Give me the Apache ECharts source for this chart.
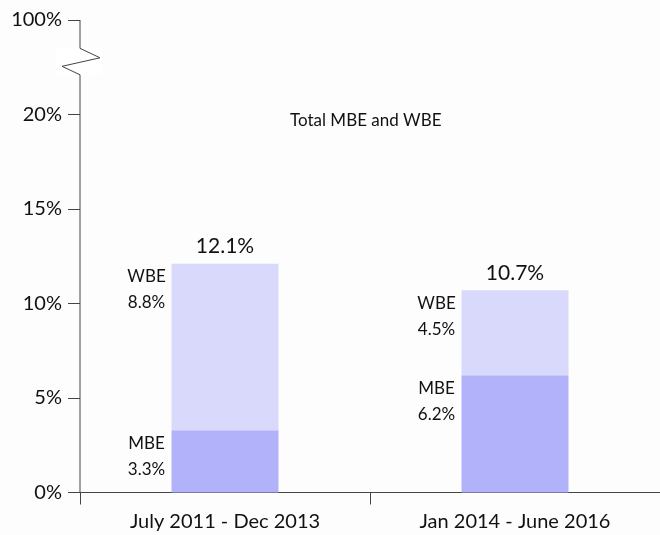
<!DOCTYPE html>
<html><head><meta charset="utf-8">
<script src="https://cdn.jsdelivr.net/npm/echarts@6/dist/echarts.min.js"></script>
<style>html,body{margin:0;padding:0;background:#fff}#c{width:660px;height:535px}</style>
</head><body><div id="c"></div>
<script>
const categories = ['July 2011 - Dec 2013', 'Jan 2014 - June 2016'];
const mbe = [3.3, 6.2];
const wbe = [8.8, 4.5];
const totals = mbe.map((v, i) => +(v + wbe[i]).toFixed(1));
// axis value 25 stands for the 100% tick above the axis break
const yTickValues = [0, 5, 10, 15, 20, 25];
const yTickLabels = ['0%', '5%', '10%', '15%', '20%', '100%'];
const chartTitle = 'Total MBE and WBE';

const FONT = 'Lato';
const chart = echarts.init(document.getElementById('c'));
const sideLabel = (name) => ({
  show: true,
  position: [-25, 0],
  align: 'center',
  verticalAlign: 'top',
  fontFamily: FONT,
  fontSize: 17,
  lineHeight: 26,
  color: '#111',
  formatter: p => name + '\n' + p.value.toFixed(1) + '%'
});
chart.setOption({
  backgroundColor: '#fdfdfd',
  animation: false,
  title: {
    text: chartTitle, left: 285, top: 107,
    textStyle: {fontFamily: FONT, fontSize: 17, fontWeight: 'normal', color: '#111'}
  },
  grid: {left: 80, top: 20, width: 586, height: 472.5},
  xAxis: {
    type: 'category', data: categories,
    axisLine: {lineStyle: {color: '#444', width: 1}},
    axisTick: {show: true, length: 12, lineStyle: {color: '#444'}},
    axisLabel: {margin: 19, fontFamily: FONT, fontSize: 20, color: '#111'}
  },
  yAxis: {
    type: 'value', min: 0, max: 25, interval: 5,
    splitLine: {show: false},
    axisLine: {show: false},
    axisTick: {show: true, length: 12, lineStyle: {color: '#444'}},
    axisLabel: {
      margin: 18, fontFamily: FONT, fontSize: 20, color: '#111',
      formatter: v => yTickLabels[yTickValues.indexOf(v)]
    }
  },
  series: [
    {name: 'MBE', type: 'bar', stack: 's', data: mbe, barWidth: 107,
     itemStyle: {color: '#b2b2fa'}, label: sideLabel('MBE')},
    {name: 'WBE', type: 'bar', stack: 's', data: wbe, barWidth: 107,
     itemStyle: {color: '#d9d9fc'}, label: sideLabel('WBE')},
    {name: 'Total', type: 'bar', data: totals, barWidth: 107, barGap: '-100%', z: 1,
     itemStyle: {color: 'rgba(0,0,0,0)'},
     label: {show: true, position: 'top', distance: 7, fontFamily: FONT, fontSize: 21, color: '#111',
             formatter: p => p.value.toFixed(1) + '%'}}
  ]
});

// broken y-axis line with zigzag
const ax = 80;
const yTop = chart.convertToPixel({yAxisIndex: 0}, 25);
const y0 = chart.convertToPixel({yAxisIndex: 0}, 0);
const yA = chart.convertToPixel({yAxisIndex: 0}, 23.5);
const yB = chart.convertToPixel({yAxisIndex: 0}, 23.0);
const yC = chart.convertToPixel({yAxisIndex: 0}, 22.55);
const yD = chart.convertToPixel({yAxisIndex: 0}, 22.1);
chart.setOption({
  graphic: [
    {type: 'rect', shape: {x: 56, y: yA, width: 46, height: yD - yA}, style: {fill: '#ffffff'}, z: 5},
    {type: 'polyline', z: 10,
     shape: {points: [[ax, yTop], [ax, yA], [ax + 20, yB], [ax - 18, yC], [ax, yD], [ax, y0]]},
     style: {stroke: '#444', lineWidth: 1, fill: null}}
  ]
});
</script></body></html>
